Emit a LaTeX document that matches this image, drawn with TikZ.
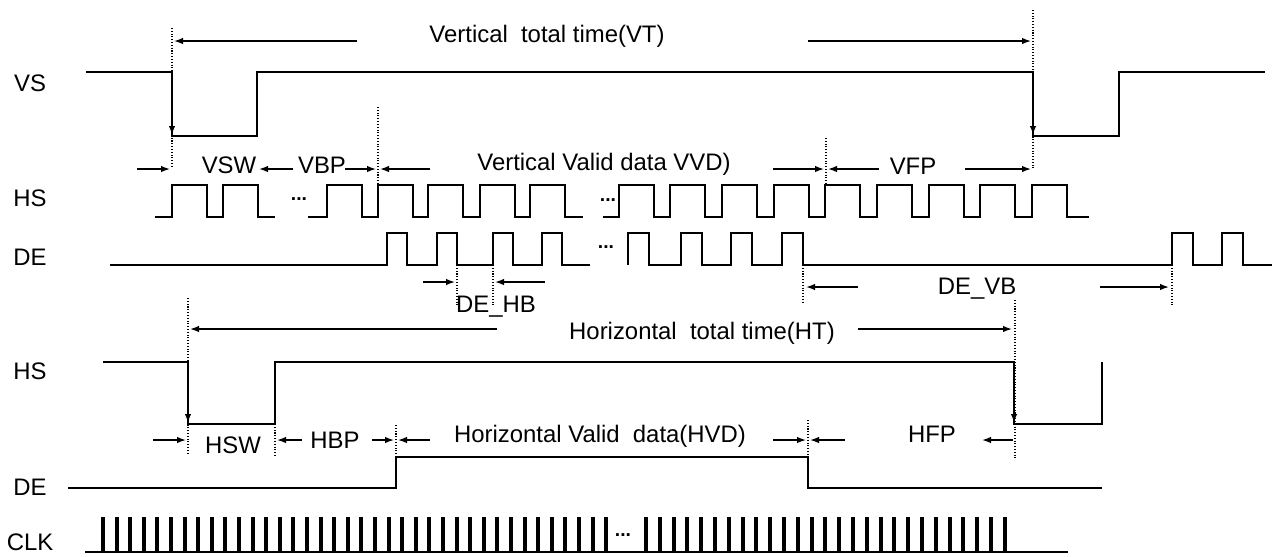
\documentclass[tikz,border=0pt]{standalone}
\usepackage{fontspec}
\setmainfont{Liberation Sans}
\usetikzlibrary{arrows.meta, positioning}

\begin{document}
\begin{tikzpicture}[
  x=0.02cm, y=-0.02cm,
  wave/.style={line width=1.1pt, line join=miter},
  dimarrow/.style={-{Latex[length=1.8mm, width=1.3mm]}, line width=0.8pt},
  guideline/.style={densely dotted, line width=0.6pt},
  lbl/.style={font=\fontsize{13.6}{16}\selectfont, inner sep=0pt},
  gap/.style={font=\fontsize{11}{12}\selectfont\bfseries, inner sep=0pt}
]
  \useasboundingbox (0,0) rectangle (1280,556);

  % Signal names
  \node[lbl] (vs) at (30,83) {VS};
  \node[lbl] (hsv) at (30,198) {HS};
  \node[lbl] (dev) at (30,257) {DE};
  \node[lbl] (hsh) at (30,371) {HS};
  \node[lbl] (deh) at (30,487) {DE};
  \node[lbl] (clk) at (30,542) {CLK};

  % VS
  \draw[wave] (86,72) -| (172,136) -| (257,72) -| (1033,136) -| (1119,72) -- (1265,72);
  \draw[dimarrow, line width=1.1pt] (172,110) -- (172,135);
  \draw[dimarrow, line width=1.1pt] (1033,110) -- (1033,135);

  % Vertical total time
  \draw[guideline] (172,28) -- (172,168);
  \draw[guideline] (1033,10) -- (1033,170);
  \draw[dimarrow] (357,41) -- (174,41);
  \draw[dimarrow] (808,41) -- (1031,41);
  \node[lbl] (vt) at (547,36) {Vertical\ \ total time(VT)};

  % Vertical periods
  \draw[guideline] (378,107) -- (378,185);
  \draw[guideline] (826,138) -- (826,185);
  \draw[dimarrow] (137,169) -- (170,169);
  \node[lbl] (vsw) at (229,165) {VSW};
  \draw[dimarrow] (293,169) -- (259,169);
  \node[lbl] (vbp) at (322,165) {VBP};
  \draw[dimarrow] (345,169) -- (376,169);
  \draw[dimarrow] (430,169) -- (380,169);
  \node[lbl] (vvd) at (604,164) {Vertical Valid data VVD)};
  \draw[dimarrow] (773,169) -- (824,169);
  \draw[dimarrow] (879,169) -- (828,169);
  \node[lbl] (vfp) at (913,166) {VFP};
  \draw[dimarrow] (965,169) -- (1031,169);

  % HS (frame)
  \draw[wave] (155,217) foreach \x in {172,223} {
    -- (\x,217) -- (\x,185) -- ({\x+35},185) -- ({\x+35},217) } -- (275,217);
  \draw[wave] (308,217) foreach \x in {327,378,428,480,530} {
    -- (\x,217) -- (\x,185) -- ({\x+35},185) -- ({\x+35},217) } -- (583,217);
  \draw[wave] (603,217) foreach \x in {619,670,722,774,825,877,929,980,1032} {
    -- (\x,217) -- (\x,185) -- ({\x+35},185) -- ({\x+35},217) } -- (1089,217);
  \node[gap] (hsgapa) at (299,199) {...};
  \node[gap] (hsgapb) at (608,200) {...};

  % DE (frame)
  \draw[wave] (110,265) foreach \x in {387,437,493,542} {
    -- (\x,265) -- (\x,233) -- ({\x+20},233) -- ({\x+20},265) } -- (590,265);
  \draw[wave] (628,265) foreach \x in {628,681,731,782,1172,1222} {
    -- (\x,265) -- (\x,233) -- ({\x+21},233) -- ({\x+21},265) } -- (1272,265);
  \node[gap] (degap) at (606,247) {...};

  % DE_HB
  \draw[guideline] (457,265) -- (457,305);
  \draw[guideline] (493,265) -- (493,305);
  \draw[dimarrow] (423,282) -- (455,282);
  \draw[dimarrow] (545,282) -- (495,282);
  \node[lbl] (dehb) at (496,307) {DE\_HB};

  % DE_VB
  \draw[guideline] (803,265) -- (803,302);
  \draw[guideline] (1172,265) -- (1172,307);
  \draw[dimarrow] (858,287) -- (806,287);
  \draw[dimarrow] (1100,287) -- (1169,287);
  \node[lbl] (devb) at (977,289) {DE\_VB};

  % HS (line)
  \draw[wave] (103,362) -| (188,424) -| (275,362) -| (1014,424) -| (1102,362);
  \draw[dimarrow, line width=1.1pt] (188,400) -- (188,423);
  \draw[dimarrow, line width=1.1pt] (1014,400) -- (1014,423);

  % Horizontal total time
  \draw[guideline] (188,298) -- (188,455);
  \draw[guideline] (1015,300) -- (1015,460);
  \draw[dimarrow] (497,329) -- (190,329);
  \draw[dimarrow] (858,329) -- (1012,329);
  \node[lbl] (ht) at (702,333) {Horizontal\ \ total time(HT)};

  % Horizontal periods
  \draw[guideline] (275,424) -- (275,455);
  \draw[guideline] (396,425) -- (396,457);
  \draw[guideline] (808,420) -- (808,457);
  \draw[dimarrow] (153,440) -- (186,440);
  \node[lbl] (hsw) at (233,445) {HSW};
  \draw[dimarrow] (302,440) -- (277,440);
  \node[lbl] (hbp) at (335,440) {HBP};
  \draw[dimarrow] (372,440) -- (394,440);
  \draw[dimarrow] (430,440) -- (398,440);
  \node[lbl] (hvd) at (600,436) {Horizontal Valid\ \ data(HVD)};
  \draw[dimarrow] (773,440) -- (806,440);
  \draw[dimarrow] (845,440) -- (810,440);
  \node[lbl] (hfp) at (932,434) {HFP};
  \draw[dimarrow] (1013,440) -- (982,440);

  % DE (line)
  \draw[wave] (68,488) -| (396,457) -| (808,488) -- (1102,488);

  % CLK
  \draw[wave] (85,552) -- (1068,552);
  \foreach \i in {0,...,37}
    \draw[wave] ({102+13.6*\i},552) -- ++(0,-34) -- ++(2,0) -- ++(0,34);
  \foreach \i in {0,...,26}
    \draw[wave] ({645+13.8*\i},552) -- ++(0,-34) -- ++(2,0) -- ++(0,34);
  \node[gap] (clkgap) at (623,535) {...};
\end{tikzpicture}
\end{document}
